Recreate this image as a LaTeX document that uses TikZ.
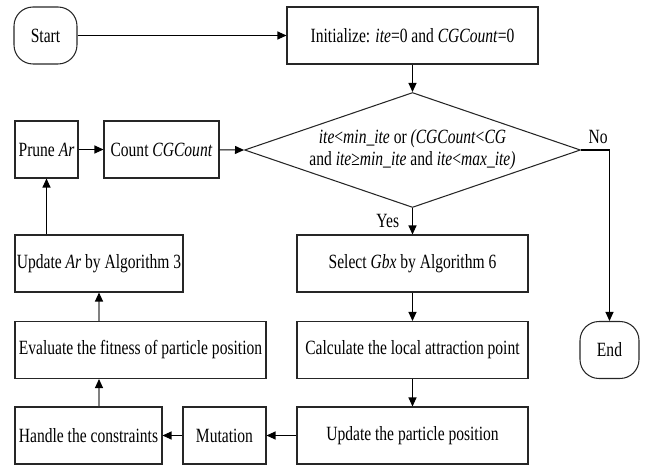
\documentclass[tikz,border=0pt]{standalone}
\usepackage{fontspec}
\setmainfont{Liberation Serif}[FakeStretch=0.77]
\usetikzlibrary{arrows.meta,shapes.geometric}

\begin{document}
\begin{tikzpicture}[x=0.02cm, y=-0.02cm,
  every node/.style={font=\fontsize{11.5}{12.5}\selectfont},
  box/.style={draw=black!85, line width=0.6pt, rectangle, minimum height=1.14cm, inner sep=1pt},
  term/.style={box, rounded corners=0.38cm},
  cond/.style={draw=black!85, line width=0.6pt, diamond, aspect=2.92, minimum width=6.72cm, minimum height=2.3cm, inner sep=0pt, align=center},
  flow/.style={line width=0.6pt, -{Triangle[length=1.8mm,width=1.6mm]}},
  flowgray/.style={line width=0.6pt, draw=gray, -{Triangle[length=1.8mm,width=1.6mm,color=black]}}]
\useasboundingbox (0,0) rectangle (650,466);

% Terminals
\node[term, minimum width=1.26cm] (start) at (45.5,35.5) {Start};
\node[term, minimum width=1.18cm] (end) at (609.5,350) {End};

% Process boxes
\foreach \name/\x/\y/\w/\txt in {
    init/412.5/35.5/251/{Initialize: \textit{ite}=0 and \textit{CGCount}=0},
    prune/46.5/149.5/63/{Prune \textit{Ar}},
    count/161.5/149.5/115/{Count \textit{CGCount}},
    upar/99/263.5/168/{Update \textit{Ar} by Algorithm 3},
    select/412.5/263.5/231/{Select \textit{Gbx} by Algorithm 6},
    eval/140.5/350/251/{Evaluate the fitness of particle position},
    calc/412.5/350/231/{Calculate the local attraction point},
    handle/88.5/435.5/147/{Handle the constraints},
    mutation/224.5/435.5/83/{Mutation},
    upos/412.5/435.5/231/{Update the particle position}} {
    \node[box, minimum width=\w*0.02cm] (\name) at (\x,\y) {\txt};
}

% Loop condition
\node[cond] (check) at (412.5,150) {\textit{ite}<\textit{min\_ite} or \textit{(CGCount}<\textit{CG}\\
    and \textit{ite}≥\textit{min\_ite} and \textit{ite}<\textit{max\_ite)}};

% Main flow
\draw[flow] (start) -- (init);
\draw[flow] (init) -- (check);
\draw[flow] (check.south) -- node[left, xshift=-4]{Yes} (select);
\draw[flow] (check.east) -| node[pos=0.3, above]{No} (end);
\draw[flow] (select) -- (calc);
\draw[flow] (calc) -- (upos);
\draw[flow] (upos) -- (mutation);
\draw[flow] (mutation) -- (handle);

% Back to the condition
\draw[flowgray] (upar.south |- handle.north) -- (upar.south |- eval.south);
\draw[flowgray] (upar.south |- eval.north) -- (upar.south);
\draw[flow] (prune.south |- upar.north) -- (prune.south);
\draw[flow] (prune) -- (count);
\draw[flow] (count) -- (check.west);
\end{tikzpicture}
\end{document}
